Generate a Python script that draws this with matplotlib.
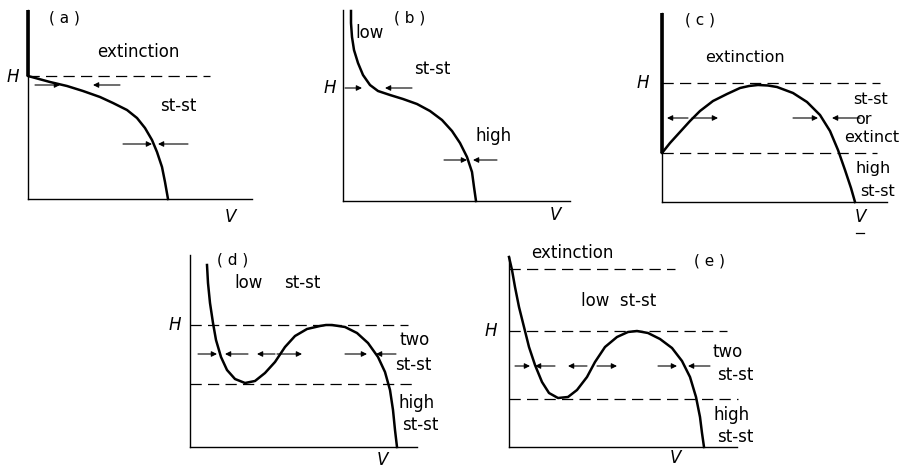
import matplotlib.pyplot as plt

# figure size in pixels (dpi 100)
W_PX, H_PX = 906, 470

# ---- panel (a) ----
a_box = (28, 199, 224, 189)          # origin x, origin y (pixels), width, height
a_V = [0, 22, 39, 55, 72, 85, 99, 109, 117, 124, 129, 134, 137, 140]
a_H = [123, 117, 113, 108, 102, 96, 89, 81, 71, 59, 47, 32, 17, 0]
a_thick = [123, 189]
a_dash = [(123, 182)]
a_arrows = [(114, 7, 32), (114, 92, 65), (55, 95, 124), (55, 160, 130)]
a_text = [("extinction", 110, 147), ("st-st", 150, 93)]
a_tag = ("( a )", 36, 181)
a_Hlab = (-15, 122)
a_Vlab = (202, -18)

# ---- panel (b) ----
b_box = (343, 201, 227, 191)
b_V = [8, 8, 9, 11, 15, 20, 27, 35, 47, 60, 74, 87, 99, 109, 117, 124, 129, 131, 133]
b_H = [190, 178, 164, 151, 138, 126, 116, 110, 106, 102, 97, 90, 81, 70, 58, 44, 29, 14, 0]
b_thick = None
b_dash = []
b_arrows = [(113, 2, 19), (113, 69, 42), (41, 101, 124), (41, 154, 130)]
b_text = [("low", 27, 168), ("st-st", 89, 132), ("high", 151, 65)]
b_tag = ("( b )", 67, 183)
b_Hlab = (-13, 113)
b_Vlab = (212, -14)

# ---- panel (c) ----
c_box = (662, 202, 225, 189)
c_V = [0, 8, 18, 28, 38, 51, 65, 78, 87, 96, 106, 115, 131, 145, 158, 168, 176, 183, 189, 193]
c_H = [49, 59, 70, 81, 91, 101, 108, 114, 116, 117, 116.5, 115, 109, 100, 87, 71, 52, 32, 14, 0]
c_thick = [49, 189]
c_dash = [(119, 218), (49, 215)]
c_arrows = [(84, 26, 5), (84, 30, 56), (84, 131, 156), (84, 198, 170)]
c_text = [("extinction", 83, 145), ("st-st", 209, 103), ("or", 201, 83),
          ("extinct", 210, 64), ("high", 211, 33), ("st-st", 216, 10)]
c_tag = ("( c )", 38, 182)
c_Hlab = (-19, 119)
c_Vlab = (198, -15)

# ---- panel (d) ----
d_box = (190, 447, 227, 192)
d_V = [17, 18, 20, 23, 26, 31, 37, 45, 55, 65, 75, 85, 95, 105, 117, 130, 136, 142,
       155, 167, 178, 188, 195, 200, 203, 205, 207]
d_H = [182, 164, 144, 124, 107, 90, 77, 68, 64, 66, 74, 85, 100, 111, 118, 121, 122, 122,
       120, 114, 104, 90, 75, 57, 37, 17, 0]
d_thick = None
d_dash = [(122, 218), (63, 227)]
d_arrows = [(93, 8, 27), (93, 58, 35), (93, 85, 67), (93, 87, 112),
            (93, 155, 177), (93, 206, 186)]
d_text = [("low", 59, 164), ("st-st", 112, 164), ("two", 225, 107), ("st-st", 223, 82),
          ("high", 227, 44), ("st-st", 230, 22)]
d_tag = ("( d )", 43, 187)
d_Hlab = (-15, 122)
d_Vlab = (192, -13)

# ---- panel (e) ----
e_box = (509, 447, 228, 190)
e_V = [0, 3, 6, 10, 15, 20, 26, 33, 40, 49, 59, 68, 78, 86, 96, 108, 119, 128,
       139, 151, 163, 173, 181, 187, 191, 193, 195]
e_H = [190, 177, 160, 140, 120, 100, 82, 65, 54, 49, 50, 57, 70, 85, 100, 110, 115, 116,
       114, 108, 99, 86, 70, 50, 30, 14, 0]
e_thick = None
e_dash = [(178, 166), (116, 218), (48, 229)]
e_arrows = [(81, 6, 21), (81, 46, 26), (81, 78, 59), (81, 88, 108),
            (81, 149, 168), (81, 201, 179)]
e_text = [("extinction", 63, 194), ("low  st-st", 110, 146), ("two", 219, 95),
          ("st-st", 226, 72), ("high", 223, 32), ("st-st", 226, 10)]
e_tag = ("( e )", 201, 186)
e_Hlab = (-18, 116)
e_Vlab = (166, -11)


def draw_panel(fig, box, V, H, thick, dash, arrows, texts, tag, hlab, vlab, vbar=False,
               fs=12):
    x0, y0, w, h = box
    ax = fig.add_axes([x0 / W_PX, (H_PX - y0) / H_PX, w / W_PX, h / H_PX])
    ax.set_xlim(0, w)
    ax.set_ylim(0, h)
    ax.spines['top'].set_visible(False)
    ax.spines['right'].set_visible(False)
    ax.spines['left'].set_linewidth(1.0)
    ax.spines['bottom'].set_linewidth(1.0)
    ax.set_xticks([])
    ax.set_yticks([])
    ax.patch.set_alpha(0)

    ax.plot(V, H, color='k', lw=1.8, clip_on=False, solid_joinstyle='round')
    if thick is not None:
        ax.plot([0, 0], thick, color='k', lw=2.6, clip_on=False, solid_capstyle='butt')
    for lev, end in dash:
        ax.plot([0, end], [lev, lev], color='k', lw=0.9, dashes=(9, 5), clip_on=False)
    for lev, s, e in arrows:
        ax.annotate('', xy=(e, lev), xytext=(s, lev), annotation_clip=False,
                    arrowprops=dict(arrowstyle='-|>', color='k', lw=0.8,
                                    mutation_scale=8, shrinkA=0, shrinkB=0))
    for t, v, hh in texts:
        ax.text(v, hh, t, ha='center', va='center', fontsize=fs)
    ax.text(tag[1], tag[2], tag[0], ha='center', va='center', fontsize=11)
    ax.text(hlab[0], hlab[1], 'H', ha='center', va='center', fontsize=12, style='italic')
    ax.text(vlab[0], vlab[1], 'V', ha='center', va='center', fontsize=12, style='italic')
    if vbar:
        ax.plot([vlab[0] - 4, vlab[0] + 4], [vlab[1] - 16, vlab[1] - 16], color='k',
                lw=0.9, clip_on=False)
    return ax


fig = plt.figure(figsize=(9.06, 4.70), dpi=100)
draw_panel(fig, a_box, a_V, a_H, a_thick, a_dash, a_arrows, a_text, a_tag, a_Hlab, a_Vlab)
draw_panel(fig, b_box, b_V, b_H, b_thick, b_dash, b_arrows, b_text, b_tag, b_Hlab, b_Vlab)
draw_panel(fig, c_box, c_V, c_H, c_thick, c_dash, c_arrows, c_text, c_tag, c_Hlab, c_Vlab,
           vbar=True, fs=11.5)
draw_panel(fig, d_box, d_V, d_H, d_thick, d_dash, d_arrows, d_text, d_tag, d_Hlab, d_Vlab)
draw_panel(fig, e_box, e_V, e_H, e_thick, e_dash, e_arrows, e_text, e_tag, e_Hlab, e_Vlab)

fig.savefig("out.png", dpi=100)
